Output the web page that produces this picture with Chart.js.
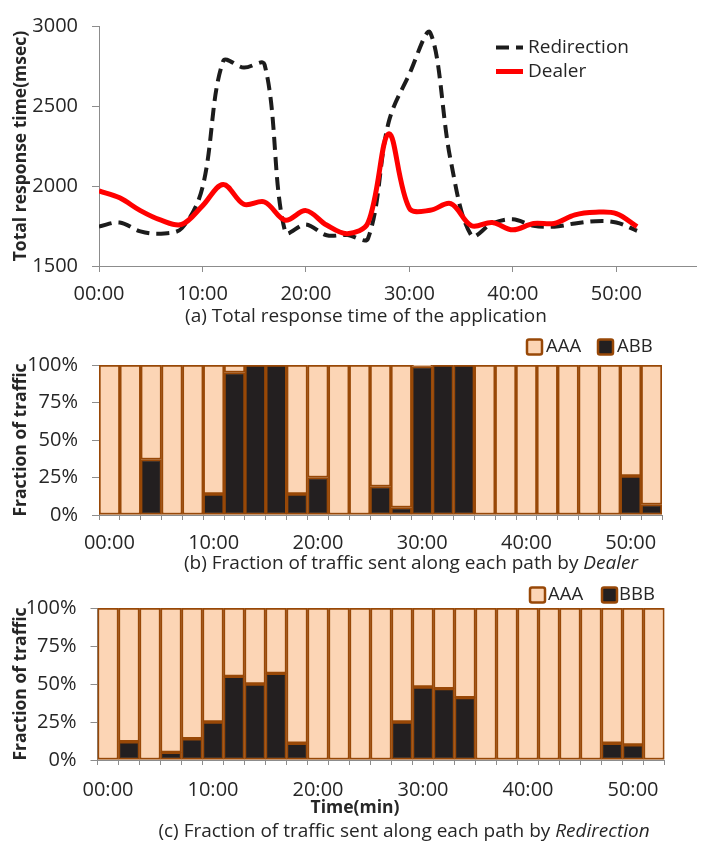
<!DOCTYPE html>
<html>
<head>
<meta charset="utf-8">
<script src="https://cdn.jsdelivr.net/npm/chart.js@4.4.0/dist/chart.umd.min.js"></script>
<style>
  body { margin: 0; background: #fff; }
  #wrap { position: relative; width: 702px; height: 849px; overflow: hidden; font-family: "Open Sans", sans-serif; color: #262626; }
  canvas { position: absolute; left: 0; }
  .caption { position: absolute; white-space: nowrap; font-size: 19px; transform: translate(-50%, -50%); }
  .xtitle { position: absolute; white-space: nowrap; font-size: 17.5px; font-weight: bold; transform: translate(-50%, -50%); }
</style>
</head>
<body>
<div id="wrap">
  <canvas id="tiempo" width="702" height="330" style="top:0"></canvas>
  <canvas id="dealer" width="702" height="250" style="top:330px"></canvas>
  <canvas id="redir" width="702" height="269" style="top:580px"></canvas>
  <div class="caption" style="left:366px; top:315px">(a) Total response time of the application</div>
  <div class="caption" style="left:411px; top:562px">(b) Fraction of traffic sent along each path by <i>Dealer</i></div>
  <div class="xtitle" style="left:355px; top:806px">Time(min)</div>
  <div class="caption" style="left:404px; top:830px">(c) Fraction of traffic sent along each path by <i>Redirection</i></div>
</div>
<script>
// --- datos ---
const minutes = [0, 2, 4, 6, 8, 10, 12, 14, 16, 18, 20, 22, 24, 26, 28, 30, 32, 34, 36, 38, 40, 42, 44, 46, 48, 50, 52];
const timeLabels = ["00:00", "02:00", "04:00", "06:00", "08:00", "10:00", "12:00", "14:00", "16:00", "18:00",
  "20:00", "22:00", "24:00", "26:00", "28:00", "30:00", "32:00", "34:00", "36:00", "38:00",
  "40:00", "42:00", "44:00", "46:00", "48:00", "50:00", "52:00"];
const shownLabels = ["00:00", "10:00", "20:00", "30:00", "40:00", "50:00"];

// (a) tiempo de respuesta total (msec)
const redirectionMs = [1746, 1772, 1716, 1702, 1736, 1990, 2780, 2740, 2760, 1712, 1760, 1692, 1694, 1672,
  2400, 2700, 2960, 2156, 1690, 1766, 1792, 1752, 1746, 1766, 1780, 1772, 1720];
const dealerMs = [1970, 1926, 1846, 1786, 1760, 1876, 2010, 1886, 1900, 1786, 1846, 1756, 1702, 1770,
  2326, 1860, 1848, 1890, 1752, 1772, 1726, 1766, 1766, 1820, 1836, 1828, 1746];

// (b) fraccion de trafico por Dealer (%)
const dealerABB = [0, 0, 37, 0, 0, 14, 95, 100, 100, 14, 25, 0, 0, 19, 5, 99, 100, 100, 0, 0, 0, 0, 0, 0, 0, 26, 7];
const dealerAAA = [100, 100, 63, 100, 100, 86, 5, 0, 0, 86, 75, 100, 100, 81, 95, 1, 0, 0, 100, 100, 100, 100, 100, 100, 100, 74, 93];

// (c) fraccion de trafico por Redirection (%)
const redirBBB = [0, 12, 0, 5, 14, 25, 55, 50, 57, 11, 0, 0, 0, 0, 25, 48, 47, 41, 0, 0, 0, 0, 0, 0, 11, 10, 0];
const redirAAA = [100, 88, 100, 95, 86, 75, 45, 50, 43, 89, 100, 100, 100, 100, 75, 52, 53, 59, 100, 100, 100, 100, 100, 100, 89, 90, 100];

// --- estilos ---
const FONT = '"Open Sans", sans-serif';
const TEXT = "#262626";
const AXIS = "#8c8c8c";
const BROWN = "#984807";
const PEACH = "#fcd5b5";
const DARK = "#231f20";
const TICK_FONT = { family: FONT, size: 20 };
const TITLE_FONT = { family: FONT, size: 17.5, weight: "bold" };

// Leyenda propia dibujada sobre el canvas
const leyendaPlugin = {
  id: "leyenda",
  afterDraw(chart, args, opts) {
    if (!opts.items) return;
    const ctx = chart.ctx;
    ctx.save();
    ctx.font = `${opts.fontSize}px ${FONT}`;
    ctx.textBaseline = "middle";
    opts.items.forEach((it) => {
      const ds = chart.data.datasets[it.dataset];
      if (it.kind === "line") {
        ctx.strokeStyle = ds.borderColor;
        ctx.lineWidth = ds.borderWidth;
        ctx.setLineDash(ds.borderDash || []);
        ctx.beginPath();
        ctx.moveTo(it.x, it.y);
        ctx.lineTo(it.x + it.w, it.y);
        ctx.stroke();
        ctx.setLineDash([]);
      } else {
        const s = it.w;
        ctx.fillStyle = ds.backgroundColor;
        ctx.strokeStyle = ds.borderColor;
        ctx.lineWidth = 2.5;
        ctx.beginPath();
        ctx.roundRect(it.x, it.y - s / 2, s, s, 2);
        ctx.fill();
        ctx.stroke();
      }
      ctx.fillStyle = TEXT;
      ctx.fillText(ds.label, it.tx, it.y);
    });
    ctx.restore();
  },
};

// Grafico (a): lineas suavizadas
new Chart(document.getElementById("tiempo"), {
  type: "line",
  data: {
    datasets: [
      {
        label: "Redirection",
        data: minutes.map((m, i) => ({ x: m, y: redirectionMs[i] })),
        borderColor: "#1c1c1c",
        borderWidth: 4,
        borderDash: [13, 7],
        order: 1,
      },
      {
        label: "Dealer",
        data: minutes.map((m, i) => ({ x: m, y: dealerMs[i] })),
        borderColor: "#ff0000",
        borderWidth: 5,
        order: 0,
      },
    ],
  },
  options: {
    responsive: false,
    animation: false,
    layout: { padding: { top: 16, right: 6, left: 0, bottom: 0 } },
    elements: { point: { radius: 0 }, line: { tension: 0.35, fill: false } },
    plugins: {
      legend: { display: false },
      tooltip: { enabled: false },
      leyenda: {
        fontSize: 19,
        items: [
          { dataset: 0, kind: "line", x: 496, w: 27, y: 47.5, tx: 528 },
          { dataset: 1, kind: "line", x: 496, w: 27, y: 71.5, tx: 528 },
        ],
      },
    },
    scales: {
      x: {
        type: "linear",
        min: 0,
        max: 57.7,
        afterBuildTicks: (s) => {
          s.ticks = s.ticks.filter((t) => t.value % 10 === 0);
        },
        ticks: {
          stepSize: 10,
          callback: (v) => shownLabels[v / 10],
          font: TICK_FONT,
          color: TEXT,
          padding: 10.5,
          maxRotation: 0,
        },
        grid: { drawOnChartArea: false, tickLength: 6, color: AXIS },
        border: { color: AXIS },
        afterFit: (s) => {
          s.height = 64;
        },
      },
      y: {
        min: 1500,
        max: 3000,
        ticks: { stepSize: 500, callback: (v) => String(v), font: TICK_FONT, color: TEXT, padding: 14 },
        grid: { drawOnChartArea: false, tickLength: 7, color: AXIS },
        border: { color: AXIS },
        title: {
          display: true,
          text: "Total response time(msec)",
          font: TITLE_FONT,
          color: TEXT,
          padding: { top: 11, bottom: 0 },
        },
        afterFit: (s) => {
          s.width = 99;
        },
      },
    },
  },
  plugins: [leyendaPlugin],
});

// Graficos (b) y (c): barras apiladas al 100%
function crearBarras(id, abajo, arriba, nombres, geo) {
  return new Chart(document.getElementById(id), {
    type: "bar",
    data: {
      labels: timeLabels,
      datasets: [
        { label: nombres[0], data: abajo, backgroundColor: DARK },
        { label: nombres[1], data: arriba, backgroundColor: PEACH },
      ].map((d) => ({
        ...d,
        borderColor: BROWN,
        borderWidth: 2,
        borderSkipped: false,
        barPercentage: 1,
        categoryPercentage: 1,
      })),
    },
    options: {
      responsive: false,
      animation: false,
      layout: { padding: { top: geo.top, right: geo.right, left: 0, bottom: 0 } },
      plugins: {
        legend: { display: false },
        tooltip: { enabled: false },
        leyenda: { fontSize: 18.5, items: geo.legend },
      },
      scales: {
        x: {
          stacked: true,
          ticks: {
            autoSkip: false,
            maxRotation: 0,
            callback: function (v) {
              const l = this.getLabelForValue(v);
              return shownLabels.includes(l) ? l : "";
            },
            font: TICK_FONT,
            color: TEXT,
            padding: geo.xPad,
          },
          grid: { drawOnChartArea: false, tickLength: 5, color: AXIS, offset: true },
          border: { color: AXIS },
          afterFit: (s) => {
            s.height = geo.xHeight;
          },
        },
        y: {
          stacked: true,
          min: 0,
          max: 100,
          ticks: {
            stepSize: 25,
            callback: (v) => v + "%",
            font: TICK_FONT,
            color: TEXT,
            padding: 14,
          },
          grid: { drawOnChartArea: false, tickLength: 7, color: AXIS },
          border: { color: AXIS },
          title: {
            display: true,
            text: "Fraction of traffic",
            font: TITLE_FONT,
            color: TEXT,
            padding: { top: 11, bottom: 0 },
          },
          afterFit: (s) => {
            s.width = geo.yWidth;
          },
        },
      },
    },
    plugins: [leyendaPlugin],
  });
}

crearBarras("dealer", dealerABB, dealerAAA, ["ABB", "AAA"], {
  top: 35,
  right: 40,
  yWidth: 99,
  xHeight: 65,
  xPad: 11,
  legend: [
    { dataset: 1, kind: "box", x: 527, w: 15, y: 17, tx: 546 },
    { dataset: 0, kind: "box", x: 598, w: 15, y: 17, tx: 617 },
  ],
});

crearBarras("redir", redirBBB, redirAAA, ["BBB", "AAA"], {
  top: 28,
  right: 37.5,
  yWidth: 97.5,
  xHeight: 89,
  xPad: 13,
  legend: [
    { dataset: 1, kind: "box", x: 530, w: 15, y: 15, tx: 548 },
    { dataset: 0, kind: "box", x: 602, w: 15, y: 15, tx: 619 },
  ],
});
</script>
</body>
</html>
